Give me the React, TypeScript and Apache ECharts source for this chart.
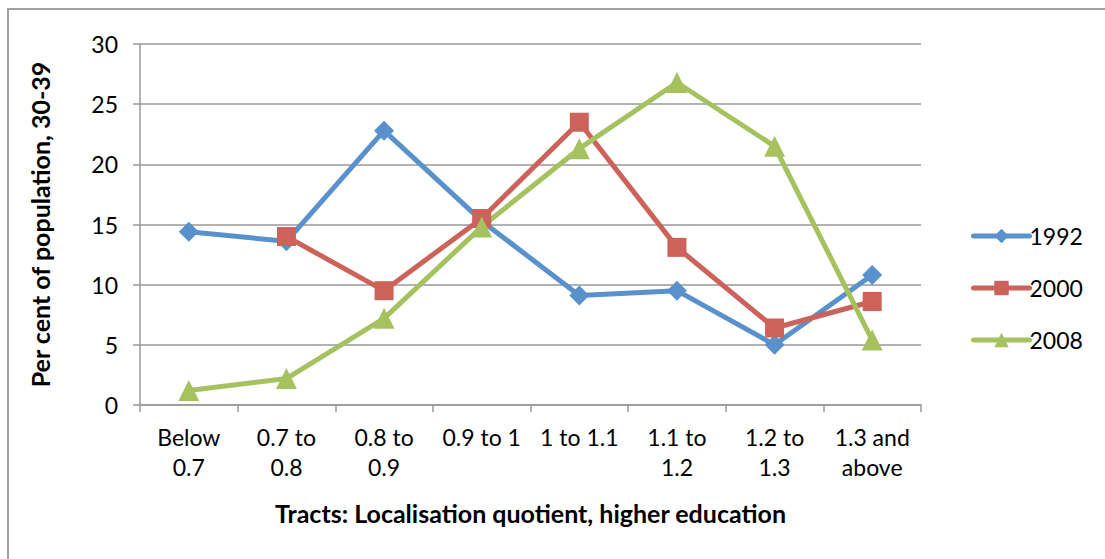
import React, { useEffect, useRef } from "react";
import * as echarts from "echarts";

const categories = [
  "Below\n0.7",
  "0.7 to\n0.8",
  "0.8 to\n0.9",
  "0.9 to 1",
  "1 to 1.1",
  "1.1 to\n1.2",
  "1.2 to\n1.3",
  "1.3 and\nabove",
];
const s1992 = [14.4, 13.6, 22.8, 15.3, 9.1, 9.5, 5.0, 10.8];
const s2000 = [null, 14.0, 9.5, 15.5, 23.5, 13.1, 6.4, 8.6];
const s2008 = [1.2, 2.2, 7.2, 14.8, 21.3, 26.8, 21.5, 5.4];
const seriesNames = ["1992", "2000", "2008"];
const colors = ["#5891CB", "#CC625A", "#A5C25F"];
const yTitle = "Per cent of population, 30-39";
const xTitle = "Tracts: Localisation quotient, higher education";

const FONT = "Lato, 'Open Sans', sans-serif";

export default function App() {
  const ref = useRef<HTMLDivElement>(null);
  useEffect(() => {
    if (!ref.current) return;
    const chart = echarts.init(ref.current, undefined, { renderer: "svg" });
    const mk = (name: string, data: any[], color: string, symbol: string, size: number) => ({
      name,
      type: "line",
      data,
      symbol,
      symbolSize: size,
      showAllSymbol: true,
      lineStyle: { color, width: 5 },
      itemStyle: { color },
      emphasis: { disabled: true },
    });
    chart.setOption({
      animation: false,
      textStyle: { fontFamily: FONT },
      graphic: [
        {
          type: "rect",
          shape: { x: 8, y: 9, width: 1200, height: 600 },
          style: { fill: "none", stroke: "#a0a0a0", lineWidth: 2 },
          silent: true,
        },
      ],
      grid: { left: 140, right: 184, top: 44, bottom: 154 },
      legend: {
        orient: "vertical",
        left: 966,
        top: 219,
        itemWidth: 56,
        itemHeight: 18,
        itemGap: 28,
        lineStyle: { width: 5, cap: "round" },
        textStyle: { fontSize: 23, lineHeight: 24, color: "#000", fontFamily: FONT, padding: [0, 0, 0, -5] },
        data: seriesNames,
      },
      xAxis: {
        type: "category",
        data: categories,
        boundaryGap: true,
        name: xTitle,
        nameLocation: "middle",
        nameGap: 95,
        nameTextStyle: { fontSize: 25, fontWeight: "bold", color: "#000", fontFamily: FONT },
        axisLine: { lineStyle: { color: "#999", width: 1.5 } },
        axisTick: { show: true, length: 7, interval: 0, lineStyle: { color: "#999", width: 1.5 } },
        axisLabel: { fontSize: 23, color: "#000", lineHeight: 30, margin: 17, interval: 0, fontFamily: FONT },
      },
      yAxis: {
        type: "value",
        min: 0,
        max: 30,
        interval: 5,
        name: yTitle,
        nameLocation: "middle",
        nameGap: 88,
        nameTextStyle: { fontSize: 25, fontWeight: "bold", color: "#000", fontFamily: FONT },
        axisLine: { show: true, lineStyle: { color: "#999", width: 1.5 } },
        axisTick: { show: true, length: 7, lineStyle: { color: "#999", width: 1.5 } },
        splitLine: { lineStyle: { color: "#999", width: 1.5 } },
        axisLabel: { fontSize: 23, color: "#000", margin: 22, fontFamily: FONT },
      },
      series: [
        mk(seriesNames[0], s1992, colors[0], "diamond", 20),
        mk(seriesNames[1], s2000, colors[1], "rect", 19),
        mk(seriesNames[2], s2008, colors[2], "triangle", 21),
      ],
    });
    return () => chart.dispose();
  }, []);
  return (
    <div
      ref={ref}
      style={{ position: "absolute", left: 0, top: 0, width: 1105, height: 559, background: "#fff" }}
    />
  );
}
